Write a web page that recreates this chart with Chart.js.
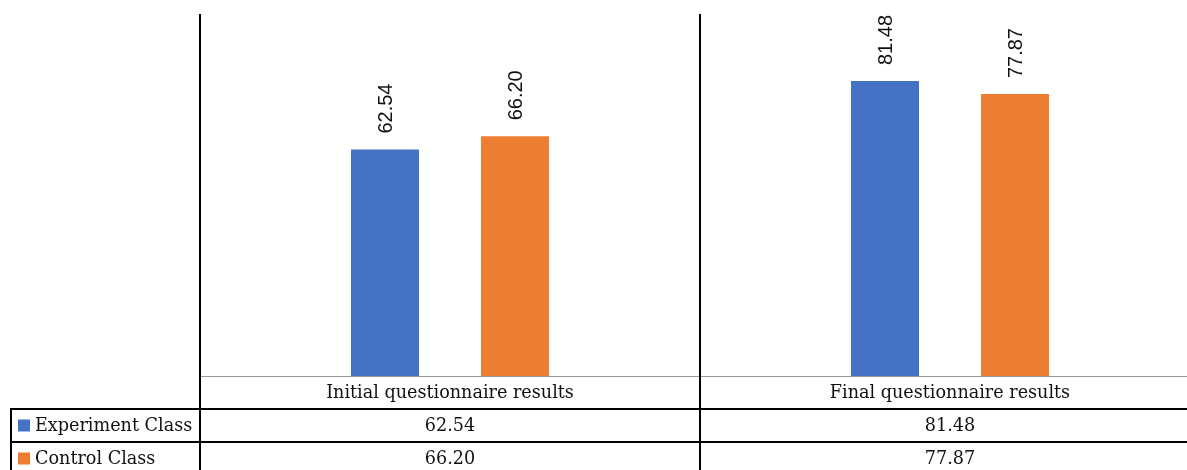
<!DOCTYPE html>
<html>
<head>
<meta charset="utf-8">
<script src="https://cdn.jsdelivr.net/npm/chart.js@4.4.0/dist/chart.umd.min.js"></script>
<style>
  html, body { margin: 0; padding: 0; background: #fff; overflow: hidden; }
  #wrap { width: 1212px; height: 470px; }
</style>
</head>
<body>
<div id="wrap"><canvas id="chart" width="1212" height="470"></canvas></div>
<script>
// data
const categories = ["Initial questionnaire results", "Final questionnaire results"];
const seriesNames = ["Experiment Class", "Control Class"];
const experimentValues = [62.54, 81.48];
const controlValues = [66.20, 77.87];
const seriesColors = ["#4472C4", "#ED7D31"];

const tableFont = '17.6px "DejaVu Serif", serif';
const labelFont = '20px "Liberation Sans", Arial, sans-serif';

// draws value labels + data table under the plot
const tablePlugin = {
  id: "tablePlugin",
  afterDraw(chart) {
    const ctx = chart.ctx;
    const area = chart.chartArea;
    const xs = chart.scales.x;
    const left = area.left, right = area.right, base = area.bottom;
    const rowH = 33;
    const r1 = base + rowH, r2 = base + 2 * rowH, r3 = chart.height;

    // rotated value labels
    ctx.save();
    ctx.fillStyle = "#111";
    ctx.font = labelFont;
    chart.data.datasets.forEach((ds, di) => {
      const meta = chart.getDatasetMeta(di);
      meta.data.forEach((bar, i) => {
        ctx.save();
        ctx.translate(bar.x, bar.y - 16);
        ctx.rotate(-Math.PI / 2);
        ctx.textAlign = "left";
        ctx.textBaseline = "middle";
        ctx.fillText(ds.data[i].toFixed(2), 0, 1);
        ctx.restore();
      });
    });
    ctx.restore();

    // table lines
    ctx.save();
    ctx.strokeStyle = "#999";
    ctx.lineWidth = 1;
    ctx.beginPath();
    ctx.moveTo(left, base + 0.5);
    ctx.lineTo(right, base + 0.5);
    ctx.stroke();

    ctx.strokeStyle = "#000";
    ctx.lineWidth = 2;
    ctx.beginPath();
    [r1, r2].forEach((y) => {
      ctx.moveTo(10, y);
      ctx.lineTo(right, y);
    });
    ctx.moveTo(11, r1);
    ctx.lineTo(11, r3);
    // category dividers
    const step = (right - left) / categories.length;
    for (let i = 0; i <= categories.length; i++) {
      const x = left + step * i;
      ctx.moveTo(x, area.top);
      ctx.lineTo(x, r3);
    }
    ctx.stroke();
    ctx.restore();

    // table text
    ctx.save();
    ctx.font = tableFont;
    ctx.fillStyle = "#111";
    ctx.textAlign = "center";
    ctx.textBaseline = "middle";
    const rowsVals = [experimentValues, controlValues];
    categories.forEach((c, i) => {
      const cx = xs.getPixelForValue(i);
      ctx.fillText(c, cx, base + rowH / 2 + 1);
      rowsVals.forEach((vals, ri) => {
        ctx.fillText(vals[i].toFixed(2), cx, r1 + rowH * ri + rowH / 2 + 1);
      });
    });
    ctx.textAlign = "left";
    seriesNames.forEach((name, ri) => {
      const cy = r1 + rowH * ri + rowH / 2;
      ctx.fillStyle = seriesColors[ri];
      ctx.fillRect(18, cy - 6, 12, 12);
      ctx.fillStyle = "#111";
      ctx.fillText(name, 35, cy + 1);
    });
    ctx.restore();
  }
};

new Chart(document.getElementById("chart"), {
  type: "bar",
  data: {
    labels: categories,
    datasets: [
      { label: seriesNames[0], data: experimentValues, backgroundColor: seriesColors[0] },
      { label: seriesNames[1], data: controlValues, backgroundColor: seriesColors[1] }
    ]
  },
  options: {
    responsive: false,
    animation: false,
    devicePixelRatio: 1,
    layout: { padding: { left: 200, right: 12, top: 14, bottom: 94 } },
    datasets: {
      bar: { categoryPercentage: 0.52, barPercentage: 0.523 }
    },
    scales: {
      x: { display: false },
      y: { display: false, min: 0, max: 100 }
    },
    plugins: {
      legend: { display: false },
      tooltip: { enabled: false }
    }
  },
  plugins: [tablePlugin]
});
</script>
</body>
</html>
